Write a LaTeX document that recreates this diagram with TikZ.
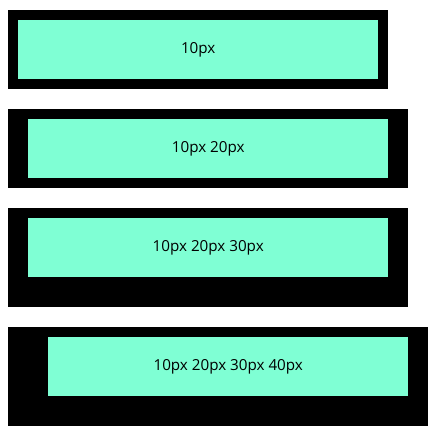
\documentclass[tikz,border=0pt]{standalone}
\usepackage{fontspec}
\setmainfont{Open Sans}
\usetikzlibrary{positioning,calc}
\definecolor{aquamarine}{HTML}{7FFFD4}

\begin{document}
\begin{tikzpicture}[x=1pt,y=-1pt,
    content/.style={fill=aquamarine, minimum width=360pt, minimum height=59pt,
        inner sep=0pt, anchor=north west, font=\fontsize{15.2}{17}\selectfont}]
    \useasboundingbox (0,0) rectangle (444,441);
    % Padding boxes: name/top/right/bottom/left/label
    \foreach \n/\t/\r/\b/\l/\val in {pa/10/10/10/10/10px, pb/109/20/10/20/10px 20px,
            pc/208/20/30/20/10px 20px 30px, pd/327/20/30/40/10px 20px 30px 40px} {
        \fill (8, \t) rectangle (8+\l+360+\r, \t+10+59+\b);
        \node[content] (\n) at (8+\l, \t+10) {\val};
    }
\end{tikzpicture}
\end{document}
